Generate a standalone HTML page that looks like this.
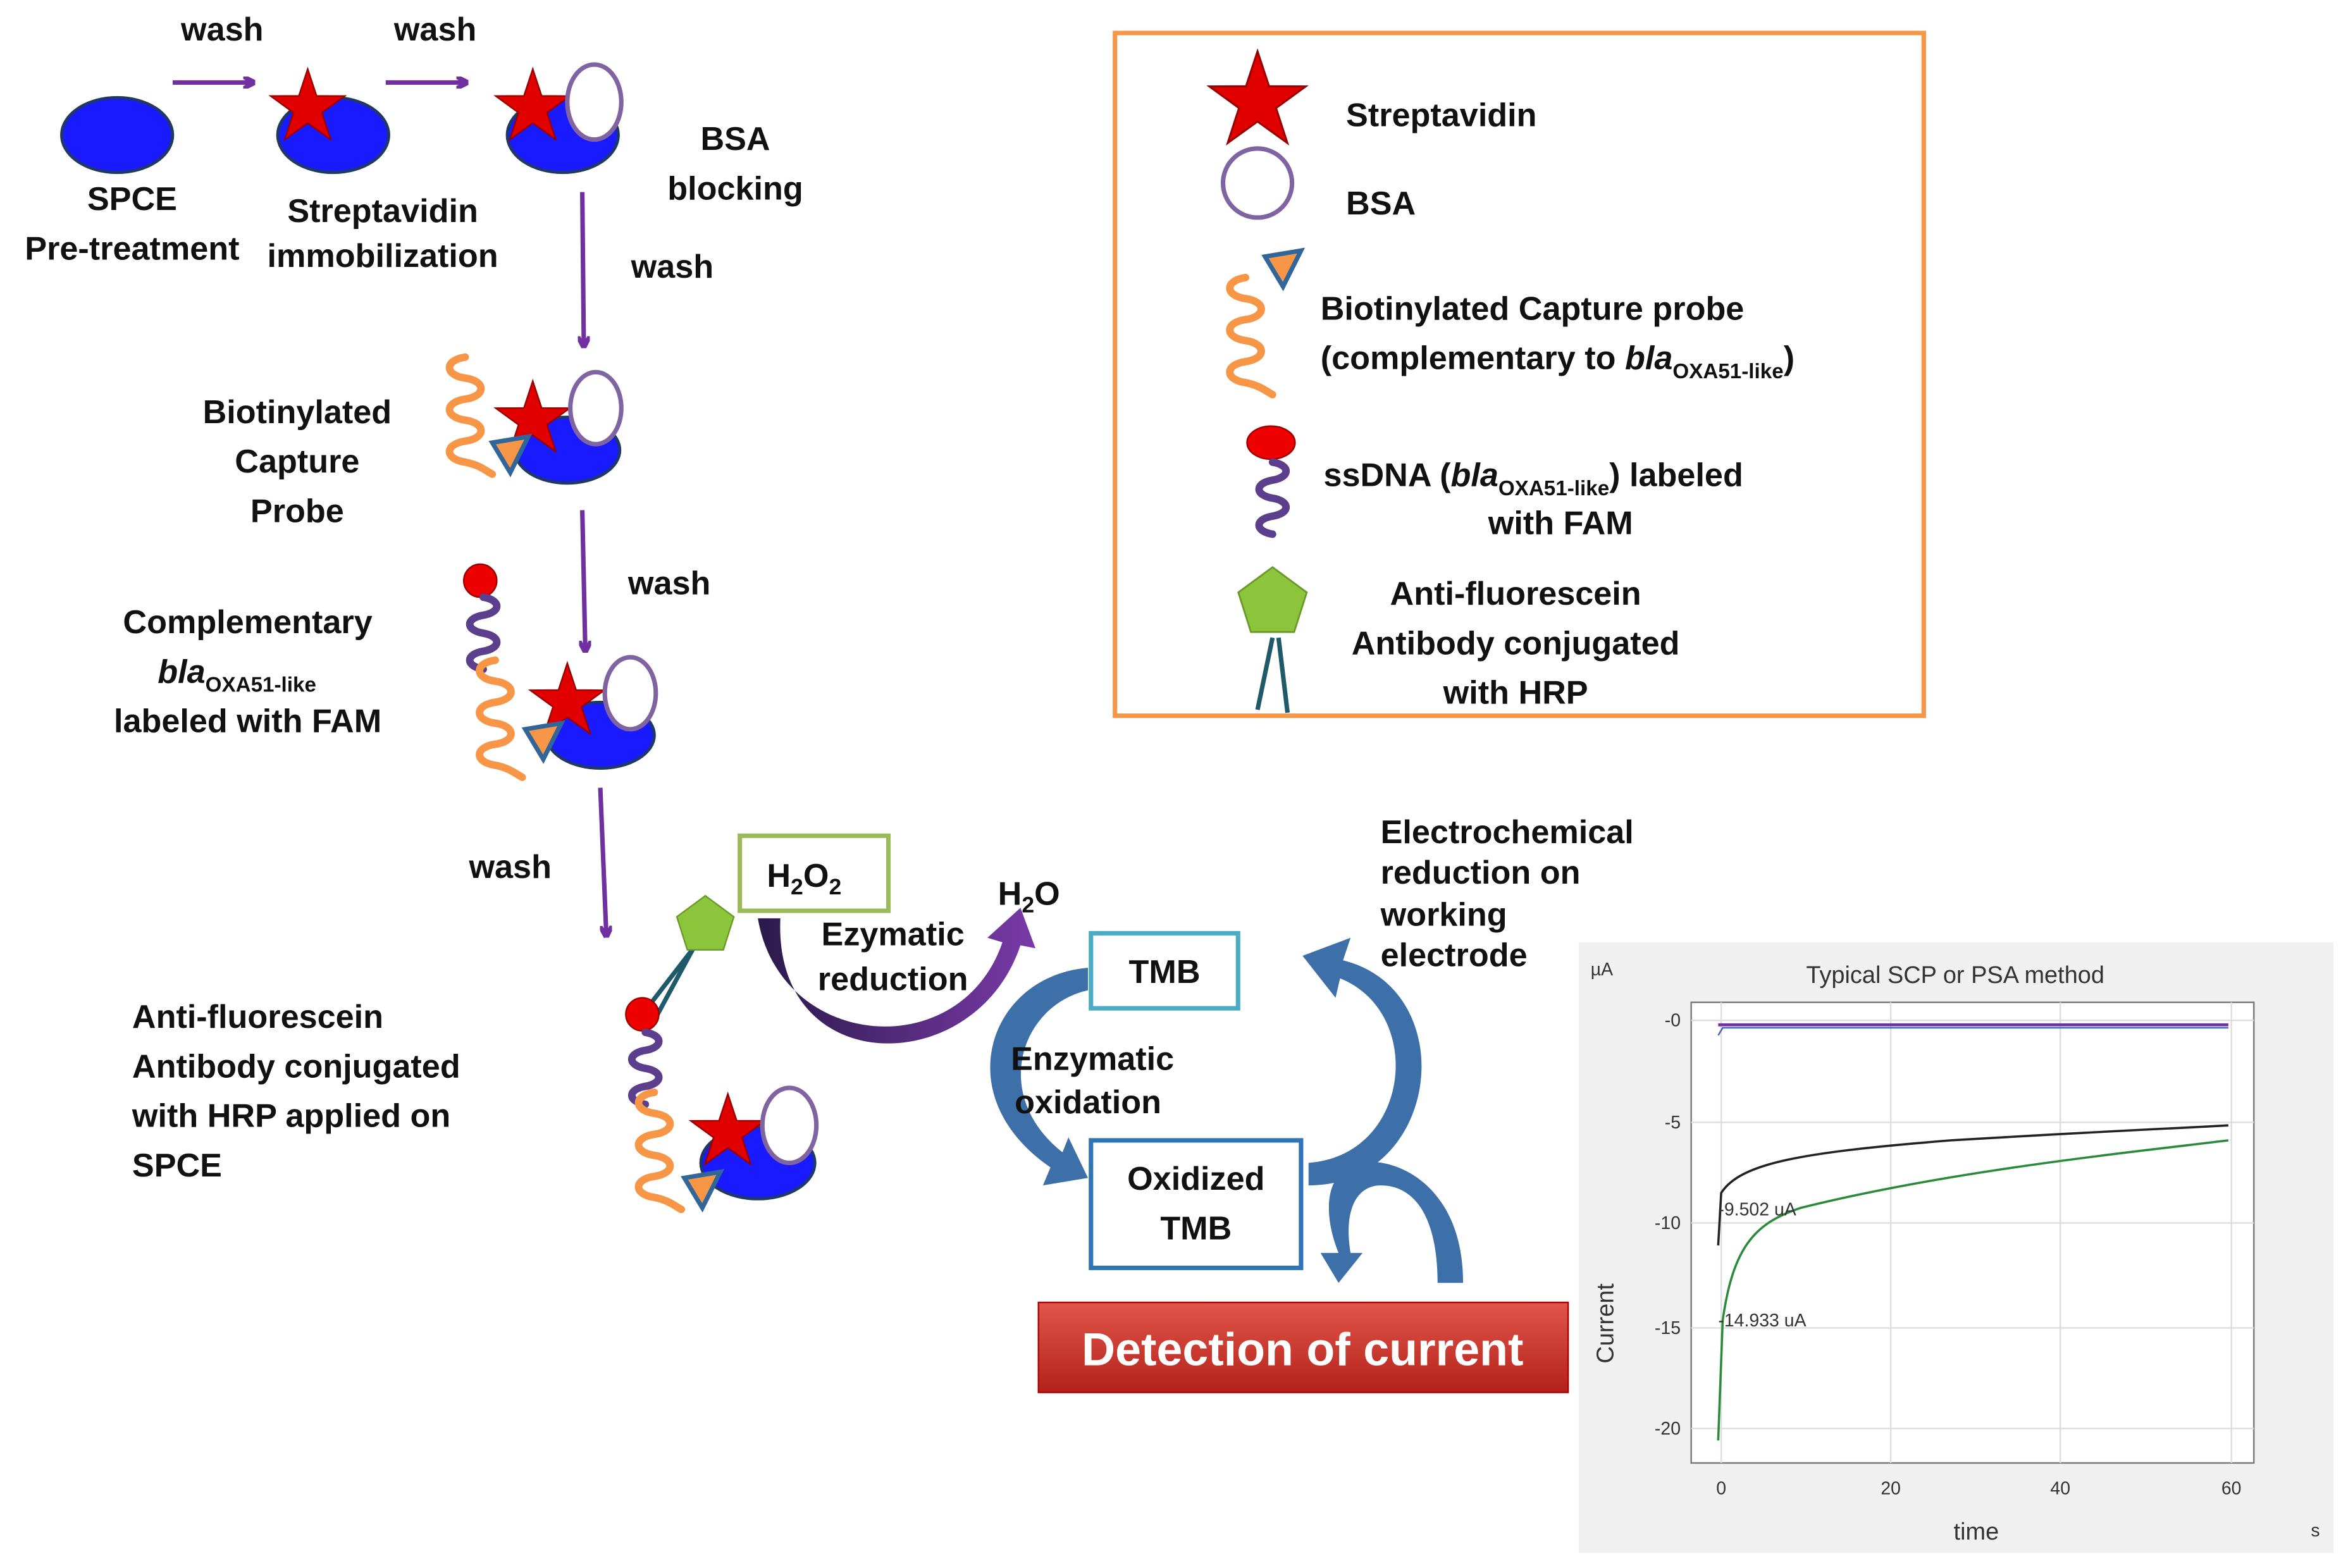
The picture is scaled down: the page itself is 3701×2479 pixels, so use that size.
<!DOCTYPE html>
<html><head><meta charset="utf-8"><style>
html,body{margin:0;padding:0;background:#fff;}
svg{display:block;}
text{font-family:"Liberation Sans",Arial,sans-serif;font-weight:bold;font-size:22px;fill:#111;}
.c{text-anchor:middle;}
.ch text{font-weight:normal;font-size:12px;fill:#333;}
</style></head><body>
<svg width="3701" height="2479" viewBox="0 0 1560 1045" xmlns="http://www.w3.org/2000/svg">
<defs>
<marker id="ap" markerWidth="8" markerHeight="8" refX="6" refY="4" orient="auto" markerUnits="userSpaceOnUse"><path d="M0,0 L8,4 L0,8" fill="none" stroke="#7030a0" stroke-width="3"/></marker>
<g id="star"><path d="M0,-26 5.9,-8.1 24.7,-8 9.5,3.1 15.3,21 0,10 -15.3,21 -9.5,3.1 -24.7,-8 -5.9,-8.1Z" fill="#e00000" stroke="#900" stroke-width="1"/></g>
<g id="tri"><path d="M-10,-12 L14,-16 L2,8Z" fill="#f79646" stroke="#31669a" stroke-width="3"/></g>
<path id="sqo" d="M0,0 c-14,2 -14,12 0,14 c14,2 14,12 0,14 c-14,2 -14,12 0,14 c14,2 14,12 0,14 c-14,2 -14,12 0,14 c10,2 14,6 18,8" fill="none" stroke="#f79646" stroke-width="5" stroke-linecap="round"/>
<path id="sqp" d="M0,0 c12,2 12,10 0,12 c-12,2 -12,10 0,12 c12,2 12,10 0,12 c-12,2 -12,10 0,12" fill="none" stroke="#5b3f8c" stroke-width="5" stroke-linecap="round"/>
<g id="pent"><path d="M0,-20 19,-6 12,16 -12,16 -19,-6Z" fill="#8cc43c" stroke="#6a9a2a" stroke-width="1"/></g>
<linearGradient id="rg" x1="0" y1="0" x2="0" y2="1"><stop offset="0" stop-color="#e2554a"/><stop offset="1" stop-color="#b3221a"/></linearGradient>
<linearGradient id="pg" x1="0" y1="0" x2="1" y2="0"><stop offset="0" stop-color="#2a1a4a"/><stop offset="1" stop-color="#7a3aa8"/></linearGradient>
</defs>

<!-- top row -->
<ellipse cx="78" cy="90" rx="37" ry="25" fill="#1a1aff" stroke="#1f3864" stroke-width="2"/>
<line x1="115" y1="55" x2="168" y2="55" stroke="#7030a0" stroke-width="3" marker-end="url(#ap)"/>
<line x1="257" y1="55" x2="310" y2="55" stroke="#7030a0" stroke-width="3" marker-end="url(#ap)"/>
<text x="148" y="27" class="c">wash</text><text x="290" y="27" class="c">wash</text>
<ellipse cx="222" cy="90" rx="37" ry="25" fill="#1a1aff" stroke="#1f3864" stroke-width="2"/>
<use href="#star" x="205" y="72"/>
<ellipse cx="375" cy="90" rx="37" ry="25" fill="#1a1aff" stroke="#1f3864" stroke-width="2"/>
<use href="#star" x="355" y="72"/>
<ellipse cx="396" cy="68" rx="18" ry="25" fill="#fff" stroke="#8064a2" stroke-width="3"/>
<text x="88" y="140" class="c">SPCE</text><text x="88" y="173" class="c">Pre-treatment</text>
<text x="255" y="148" class="c">Streptavidin</text><text x="255" y="178" class="c">immobilization</text>
<text x="490" y="100" class="c">BSA</text><text x="490" y="133" class="c">blocking</text>

<line x1="388" y1="128" x2="389" y2="230" stroke="#7030a0" stroke-width="3" marker-end="url(#ap)"/>
<text x="448" y="185" class="c">wash</text>

<!-- step 2 -->
<ellipse cx="378" cy="300" rx="35" ry="22" fill="#1a1aff" stroke="#1f3864" stroke-width="2"/>
<use href="#star" x="355" y="280"/>
<ellipse cx="397" cy="272" rx="17" ry="24" fill="#fff" stroke="#8064a2" stroke-width="3"/>
<use href="#sqo" x="310" y="238"/>
<use href="#tri" x="338" y="307"/>
<text x="198" y="282" class="c">Biotinylated</text><text x="198" y="315" class="c">Capture</text><text x="198" y="348" class="c">Probe</text>

<line x1="388" y1="340" x2="390" y2="433" stroke="#7030a0" stroke-width="3" marker-end="url(#ap)"/>
<text x="446" y="396" class="c">wash</text>

<!-- step 3 -->
<ellipse cx="400" cy="490" rx="36" ry="22" fill="#1a1aff" stroke="#1f3864" stroke-width="2"/>
<use href="#star" x="378" y="468"/>
<ellipse cx="420" cy="462" rx="17" ry="24" fill="#fff" stroke="#8064a2" stroke-width="3"/>
<circle cx="320" cy="387" r="11" fill="#e00" stroke="#900"/>
<use href="#sqp" x="322" y="398"/>
<use href="#sqo" x="330" y="440"/>
<use href="#tri" x="360" y="498"/>
<text x="165" y="422" class="c">Complementary</text>
<text x="105" y="455" font-style="italic">bla<tspan font-size="14" dy="6" font-style="normal">OXA51-like</tspan></text>
<text x="165" y="488" class="c">labeled with FAM</text>

<line x1="400" y1="525" x2="404" y2="623" stroke="#7030a0" stroke-width="3" marker-end="url(#ap)"/>
<text x="340" y="585" class="c">wash</text>

<!-- step 4 -->
<ellipse cx="505" cy="775" rx="38" ry="24" fill="#1a1aff" stroke="#1f3864" stroke-width="2"/>
<use href="#star" x="485" y="755"/>
<ellipse cx="526" cy="750" rx="18" ry="25" fill="#fff" stroke="#8064a2" stroke-width="3"/>
<line x1="428" y1="676" x2="462" y2="632" stroke="#1f5a6a" stroke-width="3"/>
<line x1="436" y1="680" x2="462" y2="632" stroke="#1f5a6a" stroke-width="3"/>
<use href="#pent" x="470" y="617"/>
<circle cx="428" cy="676" r="11" fill="#e00" stroke="#900"/>
<use href="#sqp" x="430" y="688"/>
<use href="#sqo" x="436" y="728"/>
<use href="#tri" x="466" y="797"/>
<text x="88" y="685">Anti-fluorescein</text><text x="88" y="718">Antibody conjugated</text>
<text x="88" y="751">with HRP applied on</text><text x="88" y="784">SPCE</text>

<!-- H2O2 -->
<rect x="493" y="557" width="99" height="50" fill="#fff" stroke="#9bbb59" stroke-width="3"/>
<text x="511" y="591">H<tspan font-size="15" dy="5">2</tspan><tspan dy="-5">O</tspan><tspan font-size="15" dy="5">2</tspan></text>
<path d="M505,612 C520,700 640,710 668,628 L658,625 L680,605 L690,632 L680,630 C650,720 515,720 520,612Z" fill="url(#pg)"/>
<text x="595" y="630" class="c">Ezymatic</text><text x="595" y="660" class="c">reduction</text>
<text x="665" y="603">H<tspan font-size="15" dy="5">2</tspan><tspan dy="-5">O</tspan></text>

<!-- TMB cycle -->
<rect x="727" y="622" width="98" height="50" fill="#fff" stroke="#4bacc6" stroke-width="3"/>
<text x="776" y="655" class="c">TMB</text>
<rect x="727" y="760" width="140" height="85" fill="#fff" stroke="#2e75b6" stroke-width="3"/>
<text x="797" y="793" class="c">Oxidized</text><text x="797" y="826" class="c">TMB</text>
<path d="M725,645 C660,650 630,730 700,778 L695,790 L725,785 L712,758 L708,768 C660,730 680,670 725,660Z" fill="#3d6fa8"/>
<path d="M872,790 C960,790 975,660 895,640 L900,625 L868,637 L890,665 L893,652 C950,675 940,770 872,775Z" fill="#3d6fa8"/>
<path d="M975,855 C975,790 930,770 905,775 C885,780 880,805 892,835 L880,835 L892,855 L908,835 L900,835 C895,805 905,790 920,790 C945,790 958,815 958,855Z" fill="#3d6fa8"/>
<text x="728" y="713" class="c">Enzymatic</text><text x="725" y="742" class="c">oxidation</text>
<text x="920" y="562">Electrochemical</text><text x="920" y="589">reduction on</text>
<text x="920" y="617">working</text><text x="920" y="644">electrode</text>

<rect x="692" y="868" width="353" height="60" fill="url(#rg)" stroke="#a00" stroke-width="1"/>
<text x="868" y="910" class="c" style="font-size:31px;fill:#fff">Detection of current</text>

<!-- chart -->
<g class="ch">
<rect x="1052" y="628" width="503" height="407" fill="#f0f0f0"/>
<rect x="1127" y="668" width="375" height="307" fill="#fff" stroke="#777"/>
<g stroke="#ddd" stroke-width="1">
<line x1="1127" y1="680" x2="1502" y2="680"/><line x1="1127" y1="748" x2="1502" y2="748"/>
<line x1="1127" y1="815" x2="1502" y2="815"/><line x1="1127" y1="885" x2="1502" y2="885"/>
<line x1="1127" y1="952" x2="1502" y2="952"/>
<line x1="1147" y1="668" x2="1147" y2="975"/><line x1="1260" y1="668" x2="1260" y2="975"/>
<line x1="1373" y1="668" x2="1373" y2="975"/><line x1="1487" y1="668" x2="1487" y2="975"/>
</g>
<text x="1303" y="655" class="c" style="font-size:16px">Typical SCP or PSA method</text>
<text x="1060" y="650">µA</text>
<text x="1120" y="684" text-anchor="end">-0</text><text x="1120" y="752" text-anchor="end">-5</text>
<text x="1120" y="819" text-anchor="end">-10</text><text x="1120" y="889" text-anchor="end">-15</text>
<text x="1120" y="956" text-anchor="end">-20</text>
<text x="1147" y="996" class="c">0</text><text x="1260" y="996" class="c">20</text>
<text x="1373" y="996" class="c">40</text><text x="1487" y="996" class="c">60</text>
<text x="1317" y="1026" class="c" style="font-size:16px">time</text>
<text x="1540" y="1024">s</text>
<text x="1075" y="882" class="c" transform="rotate(-90 1075 882)" style="font-size:16px">Current</text>
<path d="M1145,683 L1485,683" stroke="#7030a0" stroke-width="2"/>
<path d="M1145,690 L1148,685 L1485,685" stroke="#4060c0" stroke-width="1" fill="none"/>
<path d="M1145,830 L1147,795 C1160,775 1200,768 1300,760 C1400,754 1450,752 1485,750" stroke="#222" stroke-width="1.5" fill="none"/>
<path d="M1145,960 L1148,880 C1155,830 1170,815 1200,805 C1300,780 1420,768 1485,760" stroke="#2a8a3a" stroke-width="1.5" fill="none"/>
<text x="1145" y="810">-9.502 uA</text><text x="1145" y="884">-14.933 uA</text>
</g>

<!-- legend -->
<rect x="743" y="22" width="539" height="455" fill="#fff" stroke="#f79646" stroke-width="3"/>
<g transform="translate(838,68) scale(1.3)"><use href="#star"/></g>
<text x="897" y="84">Streptavidin</text>
<circle cx="838" cy="122" r="23" fill="#fff" stroke="#8064a2" stroke-width="3"/>
<text x="897" y="143">BSA</text>
<use href="#sqo" x="830" y="185"/>
<use href="#tri" x="853" y="183"/>
<text x="880" y="213">Biotinylated Capture probe</text>
<text x="880" y="246">(complementary to <tspan font-style="italic">bla</tspan><tspan font-size="14" dy="6">OXA51-like</tspan><tspan dy="-6">)</tspan></text>
<ellipse cx="847" cy="295" rx="16" ry="11" fill="#e00" stroke="#900"/>
<use href="#sqp" x="848" y="308"/>
<text x="882" y="324">ssDNA  (<tspan font-style="italic">bla</tspan><tspan font-size="14" dy="6">OXA51-like</tspan><tspan dy="-6">) labeled</tspan></text>
<text x="1040" y="356" class="c">with FAM</text>
<g transform="translate(848,402) scale(1.2)"><use href="#pent"/></g>
<line x1="848" y1="425" x2="838" y2="473" stroke="#1f5a6a" stroke-width="3"/>
<line x1="852" y1="425" x2="858" y2="475" stroke="#1f5a6a" stroke-width="3"/>
<text x="1010" y="403" class="c">Anti-fluorescein</text>
<text x="1010" y="436" class="c">Antibody conjugated</text>
<text x="1010" y="469" class="c">with HRP</text>
</svg>
</body></html>
